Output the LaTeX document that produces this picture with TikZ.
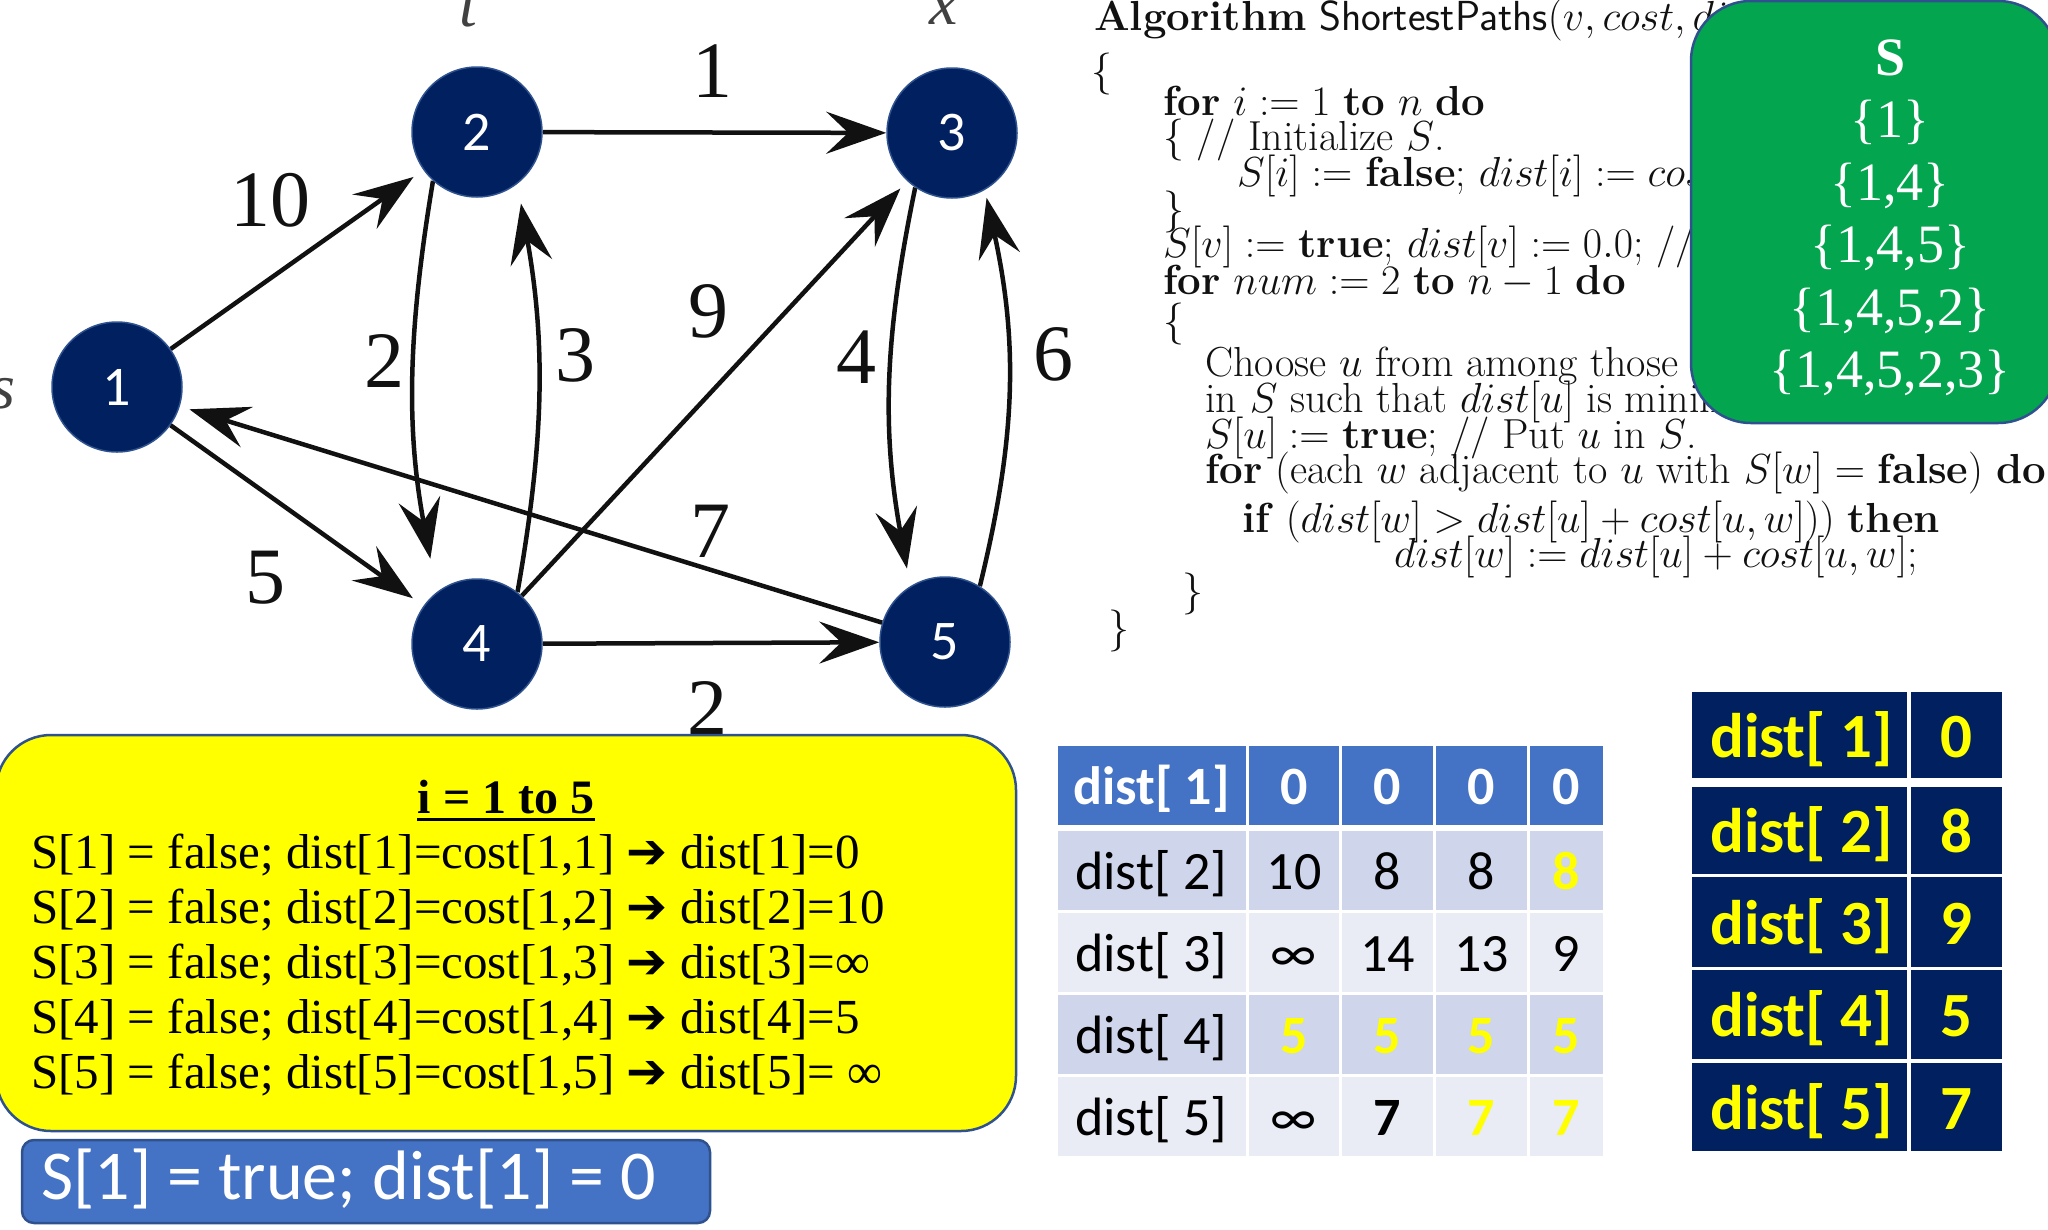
\RequirePackage{fix-cm}
\documentclass[tikz,border=0pt]{standalone}
\usepackage{fontspec}
\newfontfamily\carl{Carlito}
\newfontfamily\tnr{Liberation Serif}
\newfontfamily\dvs{DejaVu Sans}
\usetikzlibrary{arrows.meta,calc}
\pgfdeclarelayer{back}
\pgfdeclarelayer{edges}
\pgfsetlayers{back,edges,main}
\definecolor{navy}{HTML}{002060}
\definecolor{nodeedge}{HTML}{2F528F}
\definecolor{ink}{HTML}{111111}
\definecolor{yelbox}{HTML}{FFFF00}
\definecolor{accent}{HTML}{4472C4}
\definecolor{lbA}{HTML}{CFD5EA}
\definecolor{lbB}{HTML}{E9EBF5}
\definecolor{grn}{HTML}{03A64F}
\definecolor{yel}{HTML}{FFFF00}
\begin{document}
\begin{tikzpicture}[x=1pt,y=-1pt,
  vtx/.style={circle, fill=navy, draw=nodeedge, line width=1.5pt, minimum size=130pt, inner sep=0pt, text=white, font=\carl\fontsize{56}{64}\selectfont},
  conn/.style={draw=ink, line width=4.5pt, -{Stealth[length=60pt,width=42pt,inset=22pt]}},
  elab/.style={inner sep=0pt, text=ink, font=\tnr\fontsize{80}{90}\selectfont},
  frag/.style={inner sep=0pt, text=ink!80, font=\tnr\itshape\fontsize{64}{70}\selectfont},
  algo/.style={inner sep=0pt, anchor=base west, text=ink, font=\fontsize{42}{44}\selectfont},
  yline/.style={inner sep=0pt, anchor=base west, text=black, font=\tnr\fontsize{49}{56}\selectfont},
  gtxt/.style={inner sep=0pt, anchor=base, text=white, font=\tnr\fontsize{54}{60}\selectfont},
  mtxt/.style={inner sep=0pt, anchor=base, text=black, font=\carl\fontsize{54}{60}\selectfont},
  mbold/.style={inner sep=0pt, anchor=base, font=\carl\bfseries\fontsize{54}{60}\selectfont},
  rtxt/.style={inner sep=0pt, anchor=base, text=yel, font=\carl\bfseries\fontsize{63}{70}\selectfont}
]
\useasboundingbox (0,0) rectangle (2048,1229);
\begin{pgfonlayer}{back}
  \fill[white] (0,0) rectangle (2048,1229);
\end{pgfonlayer}

% ---------------- graph ----------------
\node[vtx] (n1) at (117,387) {1};
\node[vtx] (n2) at (477,132) {2};
\node[vtx] (n3) at (952,133) {3};
\node[vtx] (n4) at (477,644) {4};
\node[vtx] (n5) at (945,642) {5};

\begin{pgfonlayer}{edges}
  \draw[conn, shorten >=12pt] (n1) -- (n2);
  \draw[conn] (n2) -- (n3);
  \draw[conn, shorten >=13pt] (n1) -- (n4);
  \draw[conn] (n4) -- (n5);
  \draw[conn, shorten >=10pt] (n5) -- (n1);
  \draw[conn, shorten >=10pt] (n4) -- (n3);
  \draw[conn, shorten >=34pt] (n2.228) to[bend right=10] (n4.128);
  \draw[conn, shorten >=20pt] (n4.52) to[bend right=10] (n2.308);
  \draw[conn, shorten >=18pt] (n3.236) to[bend right=11] (n5.122);
  \draw[conn, shorten >=8pt] (n5.58) to[bend right=13] (n3.300);
\end{pgfonlayer}

\node[elab] (l12) at (270,200) {10};
\node[elab] (l23) at (712,71) {1};
\node[elab] (l24) at (384,361) {2};
\node[elab] (l42) at (575,355) {3};
\node[elab] (l43) at (708,311) {9};
\node[elab] (l35) at (856,357) {4};
\node[elab] (l53) at (1053,354) {6};
\node[elab] (l51) at (710,531) {7};
\node[elab] (l14) at (265,578) {5};
\node[elab] (l45) at (707,708) {2};

\node[frag, anchor=base east] (fs) at (16,408) {s};
\node[frag, anchor=base] (ft) at (468,26) {t};
\node[frag, anchor=base] (fx) at (944,24) {x};

% ---------------- algorithm ----------------
\node[algo] (a1) at (1094,30) {\textbf{Algorithm} \textsf{ShortestPaths}$(v, cost, dist, n)$};
\node[algo] (a2) at (1091,84) {\{};
\node[algo] (a3) at (1163,115) {\textbf{for} $i:=1$ \textbf{to} $n$ \textbf{do}};
\node[algo] (a4) at (1163,150) {\{ // Initialize $S$.};
\node[algo] (a5) at (1237,186) {$S[i]:=$ \textbf{false}; $dist[i]:=cost[v,i]$;};
\node[algo] (a6) at (1163,222) {\}};
\node[algo] (a7) at (1163,257) {$S[v]:=$ \textbf{true}; $dist[v]:=0.0$; // Put $v$ in $S$.};
\node[algo] (a8) at (1163,294) {\textbf{for} $num:=2$ \textbf{to} $n-1$ \textbf{do}};
\node[algo] (a9) at (1163,334) {\{};
\node[algo] (a10) at (1205,376) {Choose $u$ from among those vertices not};
\node[algo] (a11) at (1205,412) {in $S$ such that $dist[u]$ is minimum;};
\node[algo] (a12) at (1205,448) {$S[u]:=$ \textbf{true}; // Put $u$ in $S$.};
\node[algo] (a13) at (1205,483) {\textbf{for} (each $w$ adjacent to $u$ with $S[w]=$ \textbf{false}) \textbf{do}};
\node[algo] (a14) at (1242,532) {\textbf{if} $(dist[w]>dist[u]+cost[u,w]))$ \textbf{then}};
\node[algo] (a15) at (1394,567) {$dist[w]:=dist[u]+cost[u,w]$;};
\node[algo] (a16) at (1182,604) {\}};
\node[algo] (a17) at (1108,641) {\}};

% ---------------- green box ----------------
\draw[fill=grn, draw=nodeedge, line width=2.5pt, rounded corners=60pt] (1691,1) rectangle (2058,423);
\node[gtxt, font=\tnr\bfseries\fontsize{54}{60}\selectfont] (g0) at (1890,75) {S};
\node[gtxt] (g1) at (1890,137) {\{1\}};
\node[gtxt] (g2) at (1890,200) {\{1,4\}};
\node[gtxt] (g3) at (1890,262) {\{1,4,5\}};
\node[gtxt] (g4) at (1890,325) {\{1,4,5,2\}};
\node[gtxt] (g5) at (1890,387) {\{1,4,5,2,3\}};

% ---------------- yellow box ----------------
\draw[fill=yelbox, draw=nodeedge, line width=2.5pt, rounded corners=55pt] (-4,735) rectangle (1016,1131);
\node[yline, anchor=base, font=\tnr\bfseries\fontsize{48}{56}\selectfont] (yt) at (506,813) {i = 1 to 5};
\draw[line width=3pt] ($(yt.base west)+(0,6)$) -- ($(yt.base east)+(0,6)$);
\node[yline] (y1) at (31,868) {S[1] = false; dist[1]=cost[1,1] {\dvs\bfseries ➔} dist[1]=0};
\node[yline] (y2) at (31,923) {S[2] = false; dist[2]=cost[1,2] {\dvs\bfseries ➔} dist[2]=10};
\node[yline] (y3) at (31,978) {S[3] = false; dist[3]=cost[1,3] {\dvs\bfseries ➔} dist[3]=∞};
\node[yline] (y4) at (31,1033) {S[4] = false; dist[4]=cost[1,4] {\dvs\bfseries ➔} dist[4]=5};
\node[yline] (y5) at (31,1088) {S[5] = false; dist[5]=cost[1,5] {\dvs\bfseries ➔} dist[5]= ∞};

% ---------------- blue box ----------------
\draw[fill=accent, draw=nodeedge, line width=2.5pt, rounded corners=12pt] (22,1140) rectangle (710,1223);
\node[inner sep=0pt, anchor=base west, text=white, font=\carl\fontsize{70}{76}\selectfont] (bt) at (41,1199) {S[1] = true; dist[1] = 0};

% ---------------- middle table ----------------
\foreach \ya/\yb/\c in {746/825/accent, 831/910/lbA, 913/992/lbB, 995/1074/lbA, 1077/1156/lbB}
  \foreach \xa/\xb in {1058/1246, 1249/1339, 1342/1433, 1436/1527, 1530/1603}
    \fill[\c] (\xa,\ya) rectangle (\xb,\yb);

\node[mbold, anchor=base west, text=white] (m10) at (1073,804) {dist[ 1]};
\node[mbold, text=white] (m11) at (1294,804) {0};
\node[mbold, text=white] (m12) at (1387.5,804) {0};
\node[mbold, text=white] (m13) at (1481.5,804) {0};
\node[mbold, text=white] (m14) at (1566.5,804) {0};

\node[mtxt, anchor=base west] (m20) at (1075,889) {dist[ 2]};
\node[mtxt] (m21) at (1294,889) {10};
\node[mtxt] (m22) at (1387.5,889) {8};
\node[mtxt] (m23) at (1481.5,889) {8};
\node[mbold, text=yel] (m24) at (1566.5,889) {8};

\node[mtxt, anchor=base west] (m30) at (1075,971) {dist[ 3]};
\node[mtxt] (m31) at (1294,971) {∞};
\node[mtxt] (m32) at (1387.5,971) {14};
\node[mtxt] (m33) at (1481.5,971) {13};
\node[mtxt] (m34) at (1566.5,971) {9};

\node[mtxt, anchor=base west] (m40) at (1075,1053) {dist[ 4]};
\node[mbold, text=yel] (m41) at (1294,1053) {5};
\node[mbold, text=yel] (m42) at (1387.5,1053) {5};
\node[mbold, text=yel] (m43) at (1481.5,1053) {5};
\node[mbold, text=yel] (m44) at (1566.5,1053) {5};

\node[mtxt, anchor=base west] (m50) at (1075,1135) {dist[ 5]};
\node[mtxt] (m51) at (1294,1135) {∞};
\node[mbold, text=black] (m52) at (1387.5,1135) {7};
\node[mbold, text=yel] (m53) at (1481.5,1135) {7};
\node[mbold, text=yel] (m54) at (1566.5,1135) {7};

% ---------------- right table ----------------
\foreach \ya/\yb in {692/778, 787/874, 877/967, 970/1059, 1063/1151} {
  \fill[navy] (1692,\ya) rectangle (1907,\yb);
  \fill[navy] (1911,\ya) rectangle (2002,\yb);
}
\node[rtxt, anchor=base west] (r10) at (1710,757) {dist[ 1]};
\node[rtxt] (r11) at (1956.5,757) {0};
\node[rtxt, anchor=base west] (r20) at (1710,852) {dist[ 2]};
\node[rtxt] (r21) at (1956.5,852) {8};
\node[rtxt, anchor=base west] (r30) at (1710,944) {dist[ 3]};
\node[rtxt] (r31) at (1956.5,944) {9};
\node[rtxt, anchor=base west] (r40) at (1710,1036) {dist[ 4]};
\node[rtxt] (r41) at (1956.5,1036) {5};
\node[rtxt, anchor=base west] (r50) at (1710,1129) {dist[ 5]};
\node[rtxt] (r51) at (1956.5,1129) {7};
\end{tikzpicture}
\end{document}
